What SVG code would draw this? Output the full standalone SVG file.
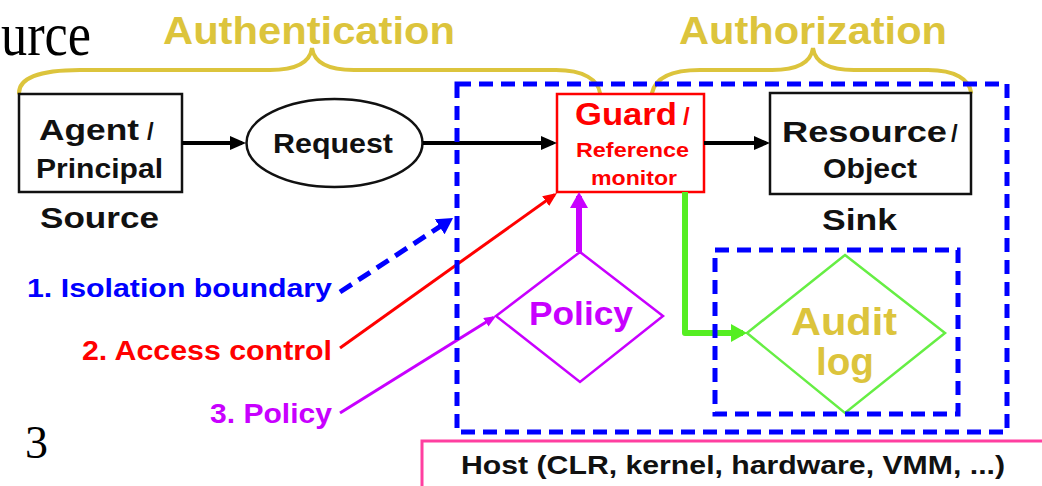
<svg xmlns="http://www.w3.org/2000/svg" width="1042" height="486" viewBox="0 0 1042 486">
  <style>
    .lbl { font-family: "Liberation Sans", Arial, sans-serif; font-weight: bold; }
    .serif { font-family: "Liberation Serif", "Times New Roman", serif; fill: #000; }
    .blk { fill: #111; }
    .gold { fill: #dcc43c; }
    .red { fill: #ff0000; }
    .mag { fill: #c800ff; }
    .blue { fill: #0000ff; }
    .brace { fill: none; stroke: #dcc43c; stroke-width: 4; stroke-linecap: round; }
    .dashbox { fill: none; stroke: #0000ff; stroke-width: 5; stroke-dasharray: 14 8; }
  </style>
  <defs>
    <marker id="ahBlack" markerUnits="userSpaceOnUse" markerWidth="16" markerHeight="14" refX="12" refY="7" orient="auto">
      <path d="M0,0 L16,7 L0,14 z" fill="#000"/>
    </marker>
    <marker id="ahRed" markerUnits="userSpaceOnUse" markerWidth="14" markerHeight="12" refX="11" refY="6" orient="auto">
      <path d="M0,0 L14,6 L0,12 z" fill="#ff0000"/>
    </marker>
    <marker id="ahMagSmall" markerUnits="userSpaceOnUse" markerWidth="12" markerHeight="10" refX="9" refY="5" orient="auto">
      <path d="M0,0 L12,5 L0,10 z" fill="#c800ff"/>
    </marker>
    <marker id="ahMag" markerUnits="userSpaceOnUse" markerWidth="16" markerHeight="18" refX="12" refY="9" orient="auto">
      <path d="M0,0 L16,9 L0,18 z" fill="#c800ff"/>
    </marker>
    <marker id="ahGreen" markerUnits="userSpaceOnUse" markerWidth="16" markerHeight="18" refX="12" refY="9" orient="auto">
      <path d="M0,0 L16,9 L0,18 z" fill="#55ee22"/>
    </marker>
    <marker id="ahBlue" markerUnits="userSpaceOnUse" markerWidth="16" markerHeight="18" refX="12" refY="9" orient="auto">
      <path d="M0,0 L16,9 L0,18 z" fill="#0000ff"/>
    </marker>
  </defs>

  <rect width="1042" height="486" fill="#ffffff"/>

  <!-- slide fragments at the edges -->
  <text class="serif" x="1" y="55" font-size="62" textLength="90" lengthAdjust="spacingAndGlyphs">urce</text>
  <text class="serif" x="25" y="458" font-size="46">3</text>

  <!-- braces and their headings -->
  <g id="authentication">
    <path class="brace" d="M19,93 C19,79 38,70 80,70 L270,70 C296,70 310,62 312,48 C314,62 328,70 354,70 L556,70 C584,70 598,80 600,93"/>
    <text class="lbl gold" x="163" y="44" font-size="38" textLength="292" lengthAdjust="spacingAndGlyphs">Authentication</text>
  </g>
  <g id="authorization">
    <path class="brace" d="M652,93 C655,79 670,70 700,70 L772,70 C798,70 811,62 813,48 C815,62 828,70 854,70 L928,70 C956,70 969,80 971,92"/>
    <text class="lbl gold" x="679" y="44" font-size="38" textLength="268" lengthAdjust="spacingAndGlyphs">Authorization</text>
  </g>

  <!-- host layer -->
  <g id="host">
    <rect x="422" y="441" width="640" height="70" fill="none" stroke="#ff3fa0" stroke-width="3"/>
    <text class="lbl blk" x="461" y="474" font-size="26" textLength="544" lengthAdjust="spacingAndGlyphs">Host (CLR, kernel, hardware, VMM, ...)</text>
  </g>

  <g id="agent">
    <rect x="19" y="94" width="163" height="98" fill="none" stroke="#111" stroke-width="2.5"/>
    <text class="lbl blk" x="39" y="140" font-size="30" textLength="100" lengthAdjust="spacingAndGlyphs">Agent</text>
    <text class="lbl blk" x="147" y="140" font-size="24">/</text>
    <text class="lbl blk" x="36" y="178" font-size="27" textLength="127" lengthAdjust="spacingAndGlyphs">Principal</text>
    <text class="lbl blk" x="40" y="228" font-size="29" textLength="119" lengthAdjust="spacingAndGlyphs">Source</text>
  </g>

  <g id="request">
    <ellipse cx="334.5" cy="143" rx="88" ry="44" fill="none" stroke="#111" stroke-width="2.5"/>
    <text class="lbl blk" x="273" y="153" font-size="28" textLength="120" lengthAdjust="spacingAndGlyphs">Request</text>
  </g>

  <g id="guard">
    <rect x="557" y="94" width="147" height="98" fill="#fff" stroke="#ff0000" stroke-width="2.5"/>
    <text class="lbl red" x="575" y="125" font-size="32" textLength="102" lengthAdjust="spacingAndGlyphs">Guard</text>
    <text class="lbl red" x="683" y="125" font-size="24">/</text>
    <text class="lbl red" x="576" y="157" font-size="21" textLength="113" lengthAdjust="spacingAndGlyphs">Reference</text>
    <text class="lbl red" x="591" y="185" font-size="21" textLength="86" lengthAdjust="spacingAndGlyphs">monitor</text>
  </g>

  <g id="resource">
    <rect x="770" y="93" width="201" height="101" fill="none" stroke="#111" stroke-width="2.5"/>
    <text class="lbl blk" x="782" y="142" font-size="30" textLength="165" lengthAdjust="spacingAndGlyphs">Resource</text>
    <text class="lbl blk" x="951" y="142" font-size="24">/</text>
    <text class="lbl blk" x="823" y="178" font-size="27" textLength="94" lengthAdjust="spacingAndGlyphs">Object</text>
    <text class="lbl blk" x="822" y="230" font-size="30" textLength="75" lengthAdjust="spacingAndGlyphs">Sink</text>
  </g>

  <g id="policy">
    <polygon points="580,252 663,316 580,382 496,316" fill="none" stroke="#c800ff" stroke-width="2.5"/>
    <text class="lbl mag" x="529" y="325" font-size="33" textLength="104" lengthAdjust="spacingAndGlyphs">Policy</text>
  </g>

  <g id="audit-log">
    <polygon points="845,255 945,333 845,413 747,333" fill="none" stroke="#66ee44" stroke-width="2.5"/>
    <text class="lbl gold" x="791" y="335" font-size="38" textLength="106" lengthAdjust="spacingAndGlyphs">Audit</text>
    <text class="lbl gold" x="816" y="375" font-size="38" textLength="58" lengthAdjust="spacingAndGlyphs">log</text>
  </g>

  <!-- legend labels -->
  <g id="legend">
    <text class="lbl blue" x="27" y="297" font-size="26" textLength="305" lengthAdjust="spacingAndGlyphs">1. Isolation boundary</text>
    <text class="lbl red" x="82" y="360" font-size="28" textLength="250" lengthAdjust="spacingAndGlyphs">2. Access control</text>
    <text class="lbl mag" x="210" y="423" font-size="28" textLength="122" lengthAdjust="spacingAndGlyphs">3. Policy</text>
  </g>

  <g id="connectors" fill="none">
    <line x1="182" y1="143" x2="242" y2="143" stroke="#000" stroke-width="4" marker-end="url(#ahBlack)"/>
    <line x1="423" y1="143" x2="553" y2="143" stroke="#000" stroke-width="4" marker-end="url(#ahBlack)"/>
    <line x1="704" y1="143" x2="766" y2="143" stroke="#000" stroke-width="4" marker-end="url(#ahBlack)"/>
    <line x1="579" y1="252" x2="579" y2="196" stroke="#c800ff" stroke-width="6" marker-end="url(#ahMag)"/>
    <path d="M685,192 V333 H743" stroke="#55ee22" stroke-width="6" stroke-linejoin="round" marker-end="url(#ahGreen)"/>
    <line x1="340" y1="292" x2="449.7" y2="220.2" stroke="#0000ff" stroke-width="5" stroke-dasharray="14 8" marker-end="url(#ahBlue)"/>
    <line x1="340" y1="348" x2="554.6" y2="194.7" stroke="#ff0000" stroke-width="3" marker-end="url(#ahRed)"/>
    <line x1="340" y1="413" x2="493.5" y2="317.6" stroke="#c800ff" stroke-width="3" marker-end="url(#ahMagSmall)"/>
  </g>

  <!-- isolation boundaries, drawn over the lines that cross them -->
  <g id="boundary-outer">
    <rect class="dashbox" x="457" y="84" width="550" height="348"/>
  </g>
  <g id="boundary-audit">
    <rect class="dashbox" x="715" y="250" width="243" height="164"/>
  </g>
</svg>
